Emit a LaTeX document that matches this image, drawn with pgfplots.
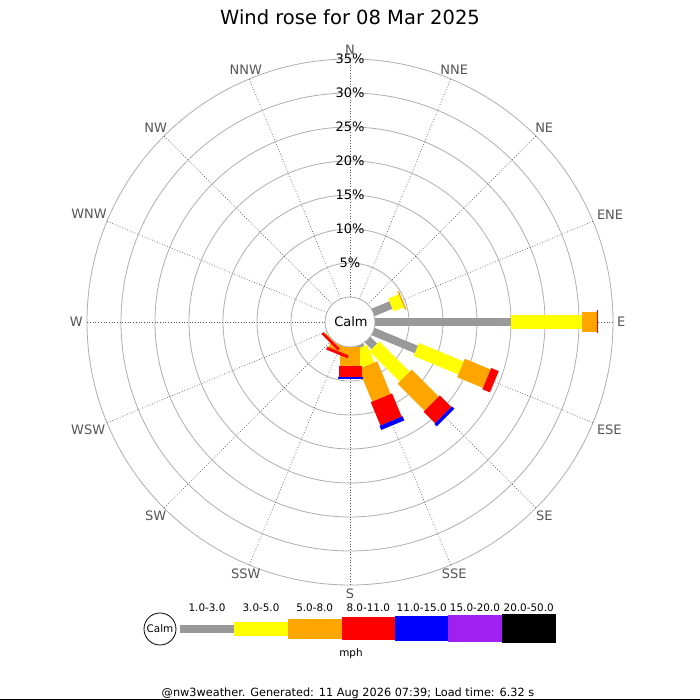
\documentclass[border=0pt]{standalone}
\usepackage{pgfplots}
\pgfplotsset{compat=1.18}
\usepackage{pgfplotstable}
\usepackage{fontspec}
\setmainfont{DejaVu Sans}
\definecolor{cgray}{RGB}{153,153,153}
\definecolor{cyellow}{RGB}{255,255,0}
\definecolor{corange}{RGB}{255,165,0}
\definecolor{cred}{RGB}{255,0,0}
\definecolor{cblue}{RGB}{0,0,255}
\definecolor{cpurple}{RGB}{160,32,240}
\definecolor{ringcol}{RGB}{175,175,175}
\definecolor{spokecol}{RGB}{90,90,90}
\definecolor{dircol}{RGB}{85,85,85}

% cumulative percentages per direction (angle in degrees, 0 = E, 90 = N)
\pgfplotstableread{
a      zero gray  yellow orange red   blue
22.5   0    2.85  4.5    4.7    4.7   4.7
0      0    20.0  30.4   32.6   32.8  32.8
-22.5  0    6.9   14.0   18.1   19.3  19.3
-45    0    1.4   7.7    13.3   15.7  16.2
-67.5  0    0.4   3.2    8.4    12.1  12.75
-90    0    0     0      2.8    4.45  4.75
-112.5 0    0     0      0.95   1.4   1.4
-135   0    0     0      0.15   0.55  0.55
}\rose

\newcommand\calm{3.67647}
\newcommand\seg[4]{%
\addplot[mark=none, draw=#3, line width=#4,
  quiver={u={(\thisrow{#2}-\thisrow{#1})*cos(\thisrow{a})},
          v={(\thisrow{#2}-\thisrow{#1})*sin(\thisrow{a})}}]
  table[x expr={(\thisrow{#1}+\calm)*cos(\thisrow{a})},
        y expr={(\thisrow{#1}+\calm)*sin(\thisrow{a})}] {\rose};}

\begin{document}
\begin{tikzpicture}
\useasboundingbox (0,0) rectangle (700bp,700bp);
\fill[white] (0,0) rectangle (700bp,700bp);
\begin{scope}[x=1bp,y=-1bp,yshift=700bp]
  \foreach \r in {59,93,127,161,195,229,263}{
    \draw[ringcol, line width=0.8bp] (350,322) circle[radius=\r bp];
  }
  \foreach \a in {0,22.5,...,337.5}{
    \draw[spokecol, dotted, line width=0.7bp] ([shift={(350,322)}]\a:25bp) -- ([shift={(350,322)}]\a:263bp);
  }
\end{scope}
\begin{axis}[at={(0,0)}, anchor=south west, width=700bp, height=700bp,
  scale only axis, hide axis, clip=false,
  xmin=-51.4706, xmax=51.4706, ymin=-55.5882, ymax=47.3529]
\seg{zero}{gray}{cgray}{8bp}
\seg{gray}{yellow}{cyellow}{14bp}
\seg{yellow}{orange}{corange}{20bp}
\seg{orange}{red}{cred}{23bp}
\seg{red}{blue}{cblue}{25bp}
\end{axis}
\begin{scope}[x=1bp,y=-1bp,yshift=700bp]
  % calm circle
  \draw[ringcol, fill=white, line width=0.8bp] (350,322) circle[radius=25bp];
  \node[font=\fontsize{13bp}{15bp}\selectfont] at (351,322) {Calm};
  % percent labels
  \foreach \r/\t in {59/5,93/10,127/15,161/20,195/25,229/30,263/35}{
    \pgfmathsetmacro\yy{322-\r}
    \node[font=\fontsize{13bp}{15bp}\selectfont, inner sep=0pt] at (350,\yy) {\t\%};
  }
  % direction labels
  \foreach \a/\t in {90/N,67.5/NNE,45/NE,22.5/ENE,0/E,-22.5/ESE,-45/SE,-67.5/SSE,-90/S,-112.5/SSW,-135/SW,-157.5/WSW,180/W,157.5/WNW,135/NW,112.5/NNW}{
    \pgfmathsetmacro\b{\a+180}
    \node[dircol, font=\fontsize{13bp}{15bp}\selectfont, inner sep=2bp, text height=9.3bp, text depth=0bp, anchor=\b] at ([shift={(350,322)}]\a:265bp) {\t};
  }
  % title
  \node[anchor=base, font=\fontsize{19.5bp}{22bp}\selectfont] at (350,25) {Wind rose for 08 Mar 2025};
  % legend
  \fill[cgray] (180,625) rectangle (234.3,633);
  \fill[cyellow] (234.3,622) rectangle (287.7,636);
  \fill[corange] (287.7,619) rectangle (341.7,639);
  \fill[cred] (341.7,617.5) rectangle (395,640.5);
  \fill[cblue] (395,616.5) rectangle (448.3,641.5);
  \fill[cpurple] (448.3,615.5) rectangle (501.7,642.5);
  \fill[black] (501.7,614.5) rectangle (555.7,643.5);
  \draw[black, fill=white, line width=0.8bp] (160,629) circle[radius=16bp];
  \node[font=\fontsize{10.4bp}{12bp}\selectfont] at (160,629) {Calm};
  \foreach \x/\t in {207/1.0-3.0,261/3.0-5.0,314.7/5.0-8.0,368.3/8.0-11.0,421.7/11.0-15.0,475/15.0-20.0,528.7/20.0-50.0}{
    \node[anchor=base, font=\fontsize{10.4bp}{12bp}\selectfont, inner sep=0pt] at (\x,611.5) {\t};
  }
  \node[anchor=base, font=\fontsize{10.4bp}{12bp}\selectfont, inner sep=0pt] at (351,657) {mph};
  % footer
  \node[anchor=base, font=\fontsize{11.3bp}{13bp}\selectfont, inner sep=0pt] at (348,697) {@nw3weather. Generated: 11 Aug 2026 07:39; Load time: 6.32 s};
  \draw[black, line width=1bp] (0,699.5) -- (700,699.5);
\end{scope}
\end{tikzpicture}
\end{document}
